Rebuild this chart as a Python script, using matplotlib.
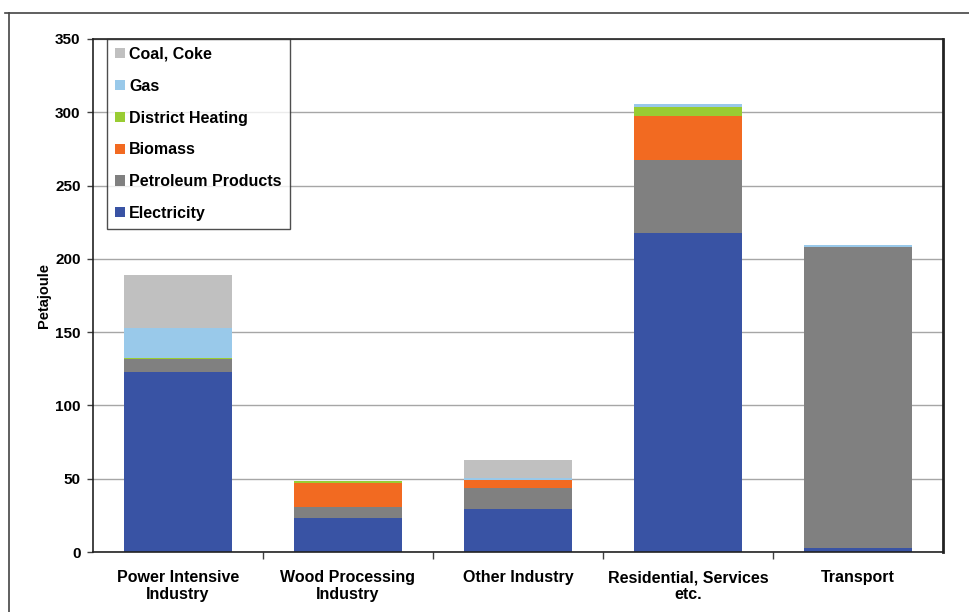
import matplotlib
matplotlib.use("Agg")
import matplotlib.pyplot as plt
from matplotlib.lines import Line2D
import numpy as np

plt.rcParams['font.family'] = ['Liberation Sans', 'DejaVu Sans']
plt.rcParams['font.weight'] = 'bold'

categories = ["Power Intensive\nIndustry", "Wood Processing\nIndustry", "Other Industry",
              "Residential, Services\netc.", "Transport"]
series_names = ["Electricity", "Petroleum Products", "Biomass", "District Heating", "Gas", "Coal, Coke"]
electricity = [122.8, 23.0, 29.3, 217.5, 2.5]
petroleum = [9.0, 7.5, 14.6, 50.0, 205.5]
biomass = [0.0, 16.5, 5.4, 30.0, 0.0]
district_heating = [0.7, 1.5, 0.0, 6.0, 0.0]
gas = [20.5, 0.0, 1.0, 2.0, 1.5]
coal = [36.0, 0.0, 12.7, 0.0, 0.0]
colors = ["#3953a4", "#808080", "#f26a21", "#99cc33", "#99c9ea", "#c0c0c0"]
yticks = [0, 50, 100, 150, 200, 250, 300, 350]

fig = plt.figure(figsize=(9.7, 6.12), dpi=100)
ax = fig.add_axes([93/970, 1-552/612, 850/970, 513/612])

x = np.arange(len(categories))
bottom = np.zeros(len(categories))
handles = []
for name, vals, c in zip(series_names,
                         [electricity, petroleum, biomass, district_heating, gas, coal], colors):
    b = ax.bar(x, vals, width=0.63, bottom=bottom, color=c, label=name, linewidth=0)
    handles.append(b)
    bottom += np.array(vals)

ax.set_xlim(-0.5, len(categories)-0.5)
ax.set_ylim(0, 350)
ax.set_yticks(yticks)
ax.set_yticklabels([str(v) for v in yticks], fontsize=11, fontweight='bold')
ax.yaxis.grid(True, color='#a6a6a6', linewidth=1)
ax.set_axisbelow(True)
ax.set_xticks(x)
ax.set_xticklabels(categories, fontsize=11.5, fontweight='bold')
ax.tick_params(axis='x', length=0, pad=13)
ax.tick_params(axis='y', length=4, width=1, color='#404040', pad=5)
# category boundary ticks
ax.set_xticks(np.arange(-0.5, len(categories), 1)[1:-1], minor=True)
ax.tick_params(axis='x', which='minor', length=5, width=1, color='#404040')
for s in ['left', 'bottom', 'right', 'top']:
    ax.spines[s].set_color('#222222')
    ax.spines[s].set_linewidth(1.2)
ax.spines['right'].set_linewidth(2)
ax.set_ylabel("Petajoule", fontsize=10.5, fontweight='bold', labelpad=3)

leg = ax.legend(handles[::-1], series_names[::-1], loc='upper left',
                bbox_to_anchor=(14/850, 1.0), fontsize=11.5, frameon=True, fancybox=False,
                handlelength=0.6, handleheight=0.6, handletextpad=0.3,
                labelspacing=1.05, borderpad=0.5, borderaxespad=0)
leg.get_frame().set_edgecolor('#222222')
leg.get_frame().set_linewidth(1)
for t in leg.get_texts():
    t.set_fontweight('bold')

# outer frame lines
fig.add_artist(Line2D([5/970, 1.0], [1-13/612, 1-13/612], color='#444444', linewidth=1.2))
fig.add_artist(Line2D([9/970, 9/970], [0, 1-13/612], color='#444444', linewidth=1.2))

fig.savefig("out.png", dpi=100)
